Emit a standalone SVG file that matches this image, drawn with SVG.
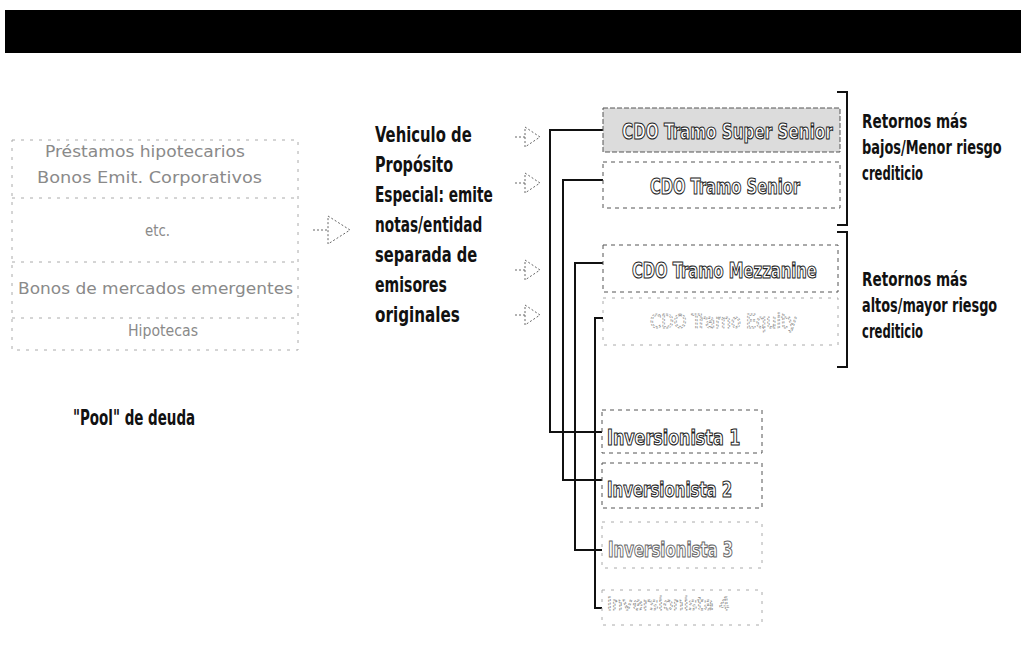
<svg xmlns="http://www.w3.org/2000/svg" width="1026" height="648" viewBox="0 0 1026 648">
<style>
.lbl{font-family:"DejaVu Sans Condensed","Liberation Sans",sans-serif;font-weight:bold;fill:#111}
.hol{font-family:"DejaVu Sans Condensed","Liberation Sans",sans-serif;font-weight:bold;fill:#fff;stroke:#222;stroke-width:1.1}
.faint{font-family:"DejaVu Sans Condensed","Liberation Sans",sans-serif;fill:#fff;stroke:#999;stroke-width:0.9;stroke-dasharray:2 1.5}
.pool{font-family:"DejaVu Sans Condensed","Liberation Sans",sans-serif;fill:#8a8a8a}
.dbox{fill:none;stroke:#555;stroke-width:1;stroke-dasharray:4 4}
.pbox{fill:none;stroke:#aaa;stroke-width:1;stroke-dasharray:3 6}
.arr{fill:none;stroke:#666;stroke-width:1;stroke-dasharray:2 2}
.con{fill:none;stroke:#111;stroke-width:2}
</style>
<rect x="5" y="10" width="1016" height="43" fill="#000"/>

<g id="pool">
<rect class="pbox" x="12" y="140" width="286" height="210"/>
<line class="pbox" x1="12" y1="198" x2="298" y2="198"/>
<line class="pbox" x1="12" y1="262" x2="298" y2="262"/>
<line class="pbox" x1="12" y1="318" x2="298" y2="318"/>
<text class="pool" x="45" y="157" font-size="15" textLength="200" lengthAdjust="spacingAndGlyphs">Préstamos hipotecarios</text>
<text class="pool" x="37" y="183" font-size="15" textLength="225" lengthAdjust="spacingAndGlyphs">Bonos Emit. Corporativos</text>
<text class="pool" x="145" y="236" font-size="15" textLength="25" lengthAdjust="spacingAndGlyphs">etc.</text>
<text class="pool" x="18" y="294" font-size="15" textLength="275" lengthAdjust="spacingAndGlyphs">Bonos de mercados emergentes</text>
<text class="pool" x="128" y="336" font-size="15" textLength="70" lengthAdjust="spacingAndGlyphs">Hipotecas</text>
<g transform="translate(73,425) scale(0.62,1)">
<text class="lbl" x="0" y="0" font-size="21" textLength="197" lengthAdjust="spacingAndGlyphs">"Pool" de deuda</text>
</g>
</g>

<g id="spv" transform="translate(375,0) scale(0.62,1)">
<text class="lbl" font-size="22" lengthAdjust="spacingAndGlyphs" x="0" y="142" textLength="156">Vehiculo de</text>
<text class="lbl" font-size="22" lengthAdjust="spacingAndGlyphs" x="0" y="172" textLength="126">Propósito</text>
<text class="lbl" font-size="22" lengthAdjust="spacingAndGlyphs" x="0" y="202" textLength="190">Especial: emite</text>
<text class="lbl" font-size="22" lengthAdjust="spacingAndGlyphs" x="0" y="232" textLength="173">notas/entidad</text>
<text class="lbl" font-size="22" lengthAdjust="spacingAndGlyphs" x="0" y="262" textLength="165">separada de</text>
<text class="lbl" font-size="22" lengthAdjust="spacingAndGlyphs" x="0" y="292" textLength="116">emisores</text>
<text class="lbl" font-size="22" lengthAdjust="spacingAndGlyphs" x="0" y="322" textLength="137">originales</text>
</g>

<g id="arrows">
<path class="arr" d="M313,230 H328 M328,216 L350,230 L328,244 Z"/>
<path class="arr" d="M515,137 H525 M525,127 L540,137 L525,147 Z"/>
<path class="arr" d="M515,183 H525 M525,173 L540,183 L525,193 Z"/>
<path class="arr" d="M515,270 H525 M525,260 L540,270 L525,280 Z"/>
<path class="arr" d="M515,315 H525 M525,305 L540,315 L525,325 Z"/>
</g>

<g id="connectors">
<path class="con" d="M603,130 H550 V432 H602"/>
<path class="con" d="M603,180 H563 V480 H602"/>
<path class="con" d="M603,263 H575 V550 H602"/>
<path class="con" d="M603,318 H595 V608 H602"/>
<path class="con" d="M837,92 H847 V225 H837"/>
<path class="con" d="M837,232 H847 V367 H837"/>
</g>

<g id="tranche1">
<rect x="603" y="108" width="237" height="44" fill="#dcdcdc" stroke="#555" stroke-width="1" stroke-dasharray="5 2"/>
<text class="hol" transform="translate(622,139) scale(0.62,1)" x="0" y="0" font-size="22" textLength="340" lengthAdjust="spacingAndGlyphs">CDO Tramo Super Senior</text>
</g>
<g id="tranche2">
<rect class="dbox" x="603" y="162" width="237" height="46"/>
<text class="hol" transform="translate(650,194) scale(0.62,1)" x="0" y="0" font-size="22" textLength="242" lengthAdjust="spacingAndGlyphs">CDO Tramo Senior</text>
</g>
<g id="tranche3">
<rect class="dbox" x="603" y="245" width="235" height="47"/>
<text class="hol" transform="translate(632,278) scale(0.62,1)" x="0" y="0" font-size="22" textLength="298" lengthAdjust="spacingAndGlyphs">CDO Tramo Mezzanine</text>
</g>
<g id="tranche4">
<rect class="pbox" x="603" y="298" width="235" height="47"/>
<text class="faint" transform="translate(650,328) scale(0.62,1)" x="0" y="0" font-size="20" textLength="237" lengthAdjust="spacingAndGlyphs">CDO Tramo Equity</text>
</g>

<g id="ret1" transform="translate(862,0) scale(0.65,1)">
<text class="lbl" font-size="20" lengthAdjust="spacingAndGlyphs" x="0" y="128" textLength="162">Retornos más</text>
<text class="lbl" font-size="20" lengthAdjust="spacingAndGlyphs" x="0" y="154" textLength="215">bajos/Menor riesgo</text>
<text class="lbl" font-size="20" lengthAdjust="spacingAndGlyphs" x="0" y="180" textLength="94">crediticio</text>
</g>
<g id="ret2" transform="translate(862,0) scale(0.65,1)">
<text class="lbl" font-size="20" lengthAdjust="spacingAndGlyphs" x="0" y="286" textLength="162">Retornos más</text>
<text class="lbl" font-size="20" lengthAdjust="spacingAndGlyphs" x="0" y="312" textLength="208">altos/mayor riesgo</text>
<text class="lbl" font-size="20" lengthAdjust="spacingAndGlyphs" x="0" y="338" textLength="94">crediticio</text>
</g>

<g id="inv1">
<rect class="dbox" x="602" y="410" width="160" height="43"/>
<text class="hol" transform="translate(607,445) scale(0.62,1)" x="0" y="0" font-size="22" textLength="215" lengthAdjust="spacingAndGlyphs">Inversionista 1</text>
</g>
<g id="inv2">
<rect class="dbox" x="602" y="463" width="160" height="45"/>
<text class="hol" transform="translate(607,497) scale(0.62,1)" x="0" y="0" font-size="22" textLength="202" lengthAdjust="spacingAndGlyphs">Inversionista 2</text>
</g>
<g id="inv3">
<rect class="pbox" x="602" y="522" width="160" height="46"/>
<text class="hol" transform="translate(608,557) scale(0.62,1)" x="0" y="0" font-size="22" textLength="202" lengthAdjust="spacingAndGlyphs" style="stroke:#666">Inversionista 3</text>
</g>
<g id="inv4">
<rect class="pbox" x="602" y="590" width="160" height="35"/>
<text class="faint" transform="translate(607,610) scale(0.62,1)" x="0" y="0" font-size="18" textLength="198" lengthAdjust="spacingAndGlyphs">Inversionista 4</text>
</g>
</svg>
